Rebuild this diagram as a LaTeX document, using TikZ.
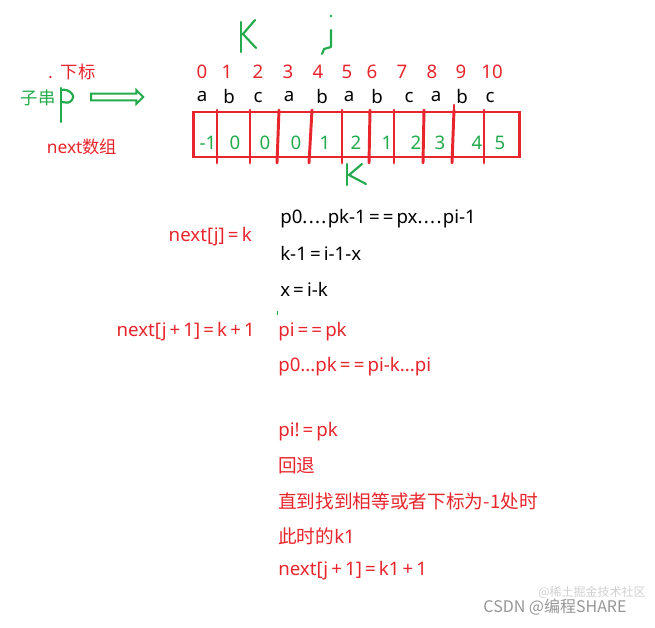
\documentclass[tikz,border=0pt]{standalone}
\usepackage{fontspec}
\setmainfont{Noto Sans}
\newfontfamily\cjk{Noto Sans CJK SC}
\usepackage{tikz}
\usetikzlibrary{positioning, arrows.meta, shapes.arrows}
\definecolor{paintred}{RGB}{232,36,44}
\definecolor{paintgreen}{RGB}{34,170,76}
\definecolor{markgray}{RGB}{150,150,150}

\begin{document}
\begin{tikzpicture}[x=0.75pt, y=-0.75pt,
	redtext/.style={text=paintred, inner sep=0pt, font=\fontsize{14}{16}\selectfont},
	blacktext/.style={text=black, inner sep=0pt, font=\fontsize{14}{16}\selectfont},
	greentext/.style={text=paintgreen, inner sep=0pt, font=\fontsize{14}{16}\selectfont},
	pen/.style={draw=paintgreen, line width=1.6pt, line cap=round, line join=round},
	redpen/.style={draw=paintred, line width=2.2pt, line cap=round}]
			
			\useasboundingbox (0,0) rectangle (655,627);
			
			%Handwritten K and j above the array
			\draw[pen] (241,22) -- (241,52);
			\draw[pen] (255,20) -- (243,34) -- (256,48);
			\fill[paintgreen] (331,16) circle (1pt);
			\draw[pen] (331,30) -- (331,47) -- (324,49) -- (322,54);
			
			%Index label and substring label
			\node (indexLabel) at (72,72) [redtext, font=\cjk\fontsize{13}{15}\selectfont]{.\ \ 下标};
			\node (subLabel) at (38,98) [greentext, font=\cjk\fontsize{13}{15}\selectfont]{子串};
			\draw[pen] (61,88) -- (61,122);
			\draw[pen] (61,90) .. controls (70,88) and (76,97) .. (72,100) .. controls (69,103) .. (62,102);
			
			%Hollow arrow
			\node (hollowArrow) at (115.5,97) [single arrow, draw=paintgreen, line width=1.5pt, 
			inner sep=1.8pt, minimum height=39pt, single arrow head extend=2.6pt]{};
			
			%next array label
			\node (nextLabel) at (82,147) [redtext, font=\fontsize{13}{15}\selectfont]{next{\cjk 数组}};
			
			%Indices
			\foreach \i/\x in {0/202, 1/227, 2/258, 3/288, 4/318, 5/347, 6/372, 7/402, 8/432, 9/461, 10/492}
			\node (index\i) at (\x,72) [redtext, font=\fontsize{14}{16}\selectfont]{\i};
			
			%Substring letters
			\foreach \c/\x [count=\n from 0] in {a/202, b/229, c/258, a/289, b/322, a/349, b/377, c/409, a/436, b/462, c/490}
			\node (letter\n) at (\x,97) [blacktext]{\c};
			
			%next array box
			\node (nextBox) at (356.5,134.5) [draw=paintred, line width=2.2pt, rectangle, inner sep=0pt, 
			minimum width=245pt, minimum height=33.75pt]{};
			\foreach \top/\bot in {217/217, 250/250, 279/277, 312/309, 342/342, 370/369, 394/394, 424/423, 454/452, 484/484}
			\draw[redpen] (\top,110) -- (\bot,163);
			\draw[redpen] (454,105) -- (454,112);
			
			%next values
			\foreach \v/\x [count=\n from 0] in {-1/208, 0/235, 0/265, 0/296, 1/325, 2/356, 1/387, 2/416, 3/440, 4/477, 5/500}
			\node (value\n) at (\x,143) [greentext]{\v};
			
			%Handwritten K below the array
			\draw[pen] (347,164) -- (347,185);
			\draw[pen] (362,164) -- (349,175) -- (366,184);
			
			%Derivation
			\node (nextJ) at (252,237) [redtext, anchor=east]{next[j]\,=\,k};
			\node (lineA) at (280,219) [blacktext, anchor=west]{p0.\kern1pt.\kern1pt.\kern1pt.\kern1pt pk-1\,=\,=\,px.\kern1pt.\kern1pt.\kern1pt.\kern1pt pi-1};
			\node (lineB) at (280,253) [blacktext, anchor=west]{k-1\,=\,i-1-x};
			\node (lineC) at (280,289) [blacktext, anchor=west]{x\,=\,i-k};
			\fill[paintgreen] (276.5,311) rectangle (277.5,315);
			
			\node (nextJplus) at (255,332) [redtext, anchor=east]{next[j\,+\,1]\,=\,k\,+\,1};
			\node (lineD) at (278,332) [redtext, anchor=west]{pi\,=\,=\,pk};
			\node (lineE) at (278,367) [redtext, anchor=west]{p0...pk\,=\,=\,pi-k...pi};
			
			\node (lineF) at (278,432) [redtext, anchor=west]{pi!\,=\,pk};
			\node (lineG) at (278,466) [redtext, font=\cjk\fontsize{14}{16}\selectfont, anchor=west]{回退};
			\node (lineH) at (278,501) [redtext, font=\cjk\fontsize{14}{16}\selectfont, anchor=west]{直到找到相等或者下标为-1处时};
			\node (lineI) at (278,536) [redtext, anchor=west]{{\cjk 此时的}k1};
			\node (lineJ) at (278,571) [redtext, anchor=west]{next[j\,+\,1]\,=\,k1\,+\,1};
			
			%Watermark
			\node (markBack) at (592,592) [text=markgray!45, font=\cjk\fontsize{9}{11}\selectfont, inner sep=0pt]{@稀土掘金技术社区};
			\node (markFront) at (555,607) [text=markgray, font=\cjk\fontsize{12}{14}\selectfont, inner sep=0pt]{CSDN @编程SHARE};
			
\end{tikzpicture}
\end{document}
